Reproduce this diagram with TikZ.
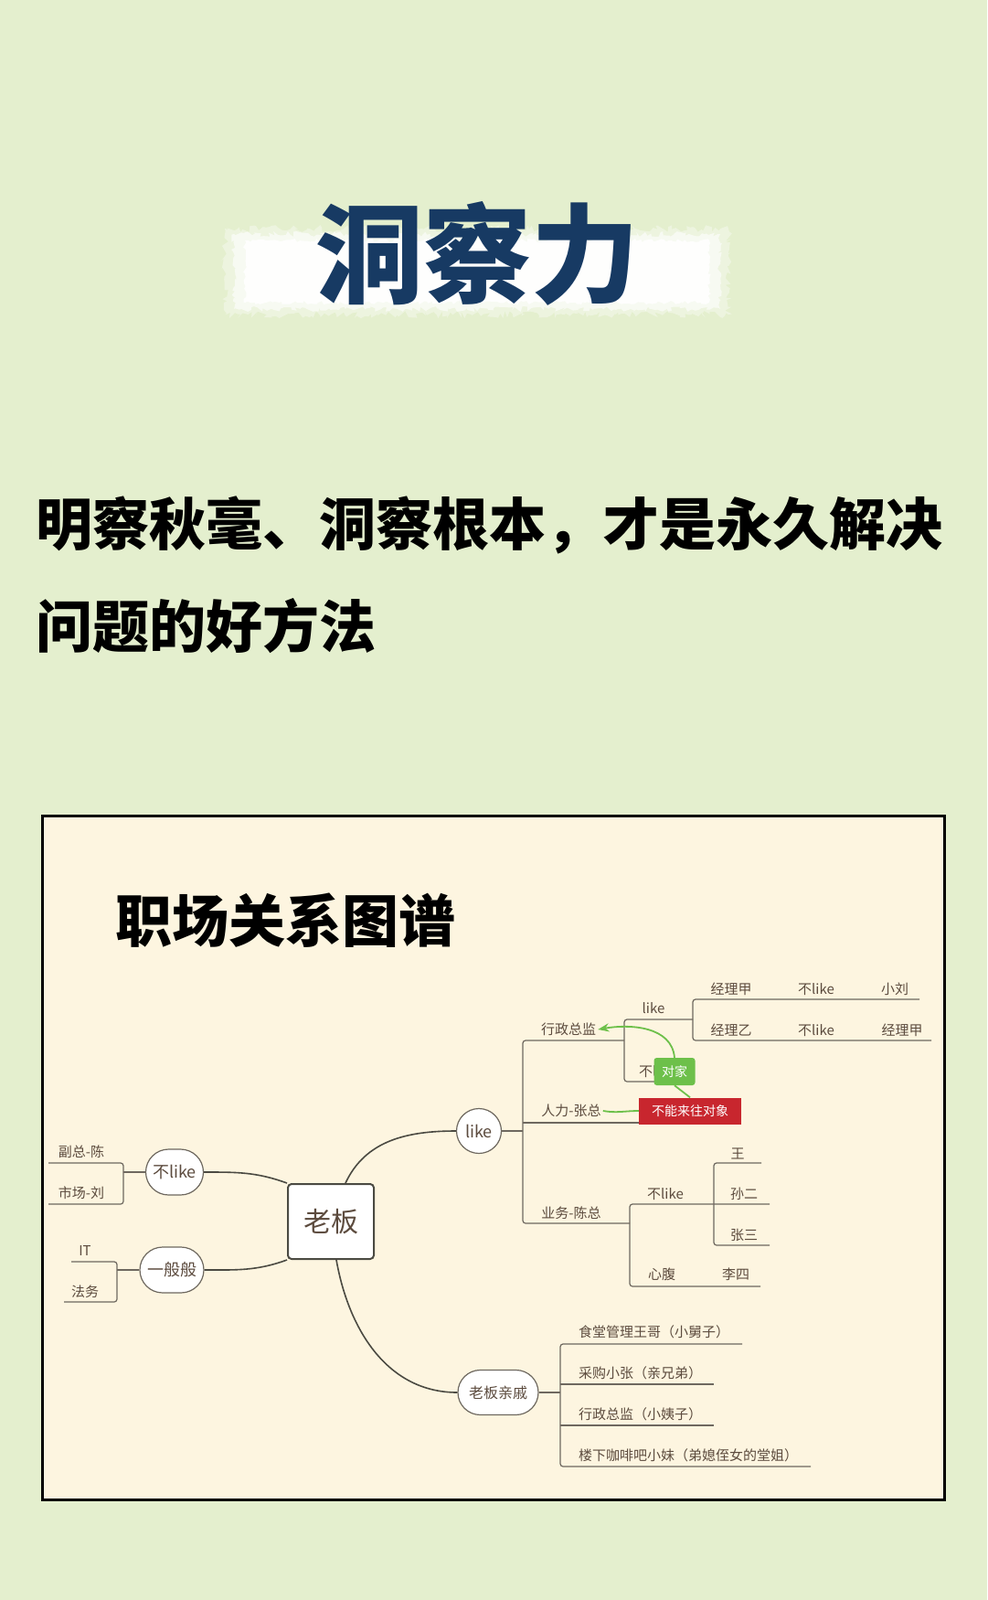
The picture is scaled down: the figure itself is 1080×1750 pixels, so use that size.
\documentclass[tikz,border=0pt]{standalone}
\usepackage{fontspec}
\setmainfont{Noto Sans CJK SC}
\newfontfamily\heavyfont{Noto Sans CJK SC Black}
\usepackage{xcolor}
\usetikzlibrary{calc, shapes.misc, arrows.meta, positioning, decorations.pathmorphing}
\definecolor{pagebg}{HTML}{E4EFCE}
\definecolor{panelbg}{HTML}{FDF5E0}
\definecolor{navy}{HTML}{173A63}
\definecolor{inkbrown}{HTML}{5C4B3E}
\definecolor{linegrey}{HTML}{6E685F}
\definecolor{linkgrey}{HTML}{4B4A42}
\definecolor{tiegreen}{HTML}{6DC04A}
\definecolor{banred}{HTML}{C8262E}
\newcommand\setfs[1]{\fontsize{#1}{#1}\selectfont}

\begin{document}
\begin{tikzpicture}[x=1pt, y=-1pt,
        leaf/.style = {text=inkbrown, font=\setfs{15}, inner sep=2pt},
        pill/.style = {draw=linegrey, fill=white, rounded rectangle, line width=1.2pt, text=inkbrown, font=\setfs{18}, minimum height=50pt, inner xsep=3pt},
        boss/.style = {draw=linkgrey, fill=white, rectangle, rounded corners=4pt, line width=2pt, text=inkbrown, font=\setfs{30}, minimum width=94pt, minimum height=82pt},
        branch/.style = {draw=linegrey, line width=1.2pt, rounded corners=3pt},
        link/.style = {draw=linkgrey, line width=1.6pt},
        tie/.style = {draw=tiegreen, line width=1.8pt},
        tag/.style = {text=white, font=\setfs{14}, inner sep=3pt},
        headline/.style = {font=\bfseries\setfs{62}, anchor=west, inner sep=0pt},
        brush/.style = {fill=white, decorate, decoration={random steps, segment length=3pt, amplitude=#1}}
    ]

        % Page
        \fill[pagebg] (0,0) rectangle (1080,1750);
        \useasboundingbox (0,0) rectangle (1080,1750);

        % Title with brush
        \fill[brush=4pt, opacity=0.35] (246,250) rectangle (797,344);
        \fill[brush=3pt, opacity=0.6] (256,256) rectangle (788,338);
        \fill[brush=2pt, opacity=0.9] (268,263) rectangle (776,331);
        \node (title) [text=navy, font=\heavyfont\setfs{118}, inner sep=0pt] at (522,277) {洞察力};

        % Subtitle
        \node (sub1) [headline] at (39,574) {明察秋毫、洞察根本，才是永久解决};
        \node (sub2) [headline] at (39,685) {问题的好方法};

        % Panel
        \draw[line width=3pt, fill=panelbg] (46,892) rectangle (1033,1640);
        \node (maptitle) [headline] at (126,1007) {职场关系图谱};

        % Centre and first level
        \node (boss)  [boss] at (362,1336) {老板};
        \node (nlike) [pill, minimum width=69pt] at (191,1282) {不like};
        \node (meh)   [pill, minimum width=76pt] at (188,1389) {一般般};
        \node (like)  [pill, minimum width=52pt, minimum height=49pt] at (524,1237) {like};
        \node (kin)   [pill, minimum width=94pt, minimum height=49pt, font=\setfs{16}] at (545,1523) {老板亲戚};

        \draw[link] (boss.north west) to[out=160,in=0] (nlike.east);
        \draw[link] (boss.south west) to[out=200,in=0] (meh.east);
        \draw[link] ($(boss.north)+(16,0)$) to[out=65,in=180] (like.west);
        \draw[link] ($(boss.south)+(6,0)$) to[out=-80,in=180] (kin.west);

        % Left: not like
        \node (vpchen) [leaf] at (89,1260) {副总-陈};
        \node (mkliu)  [leaf] at (89,1305) {市场-刘};
        \coordinate (nl-j) at (135,1282);
        \coordinate (nl-t) at (53,1272);
        \coordinate (nl-b) at (53,1317);
        \draw[branch] (nlike.west) -- (nl-j);
        \draw[branch] (nl-t) -| (nl-j) |- (nl-b);

        % Left: so-so
        \node (it)    [leaf] at (93,1368) {IT};
        \node (legal) [leaf] at (93,1413) {法务};
        \coordinate (mh-j) at (128,1389);
        \coordinate (mh-t) at (78,1380);
        \coordinate (mh-b) at (70,1424);
        \draw[branch] (meh.west) -- (mh-j);
        \draw[branch] (mh-t) -| (mh-j) |- (mh-b);

        % Right: like
        \coordinate (rj) at (572,1237);
        \coordinate (adm-j) at (683,1138);
        \coordinate (biz-j) at (689,1338);
        \coordinate (hr-j) at (572,1228);
        \coordinate (hr-e) at (700,1228);
        \draw[branch] (like.east) -- (rj);
        \draw[branch] (adm-j) -| (rj) |- (biz-j);
        \draw[branch] (hr-j) -- (hr-e);

        \node (admin) [leaf] at (622,1126) {行政总监};
        \node (hr)    [leaf] at (625,1215) {人力-张总};
        \node (biz)   [leaf] at (625,1327) {业务-陈总};

        % Admin director
        \coordinate (mg-j) at (758,1115);
        \coordinate (nl2-e) at (716,1183);
        \coordinate (r1-e) at (1006,1093);
        \coordinate (r2-e) at (1019,1138);
        \draw[branch] (mg-j) -| (adm-j) |- (nl2-e);
        \draw[branch] (r1-e) -| (mg-j) |- (r2-e);
        \node (alike)  [leaf] at (715,1103) {like};
        \node (anlike) [leaf, anchor=west] at (697,1172) {不like};
        \node (mgrA)   [leaf] at (800,1082) {经理甲};
        \node (r1n)    [leaf] at (893,1082) {不like};
        \node (xliu)   [leaf] at (979,1082) {小刘};
        \node (mgrB)   [leaf] at (800,1127) {经理乙};
        \node (r2n)    [leaf] at (893,1127) {不like};
        \node (mgrA2)  [leaf] at (987,1127) {经理甲};

        % Business
        \coordinate (dis-j) at (781,1317);
        \coordinate (sun-e) at (842,1317);
        \coordinate (li-e) at (832,1407);
        \coordinate (wang-e) at (833,1272);
        \coordinate (zhang-e) at (842,1362);
        \draw[branch] (sun-e) -| (biz-j) |- (li-e);
        \draw[branch] (wang-e) -| (dis-j) |- (zhang-e);
        \node (bnlike) [leaf] at (728,1306) {不like};
        \node (wang)   [leaf] at (807,1262) {王};
        \node (sun)    [leaf] at (814,1306) {孙二};
        \node (zhang)  [leaf] at (814,1351) {张三};
        \node (trust)  [leaf] at (724,1394) {心腹};
        \node (lisi)   [leaf] at (805,1394) {李四};

        % Relatives
        \coordinate (kin-j) at (613,1523);
        \coordinate (k1-e) at (812,1470);
        \coordinate (k2-e) at (781,1514);
        \coordinate (k3-e) at (781,1559);
        \coordinate (k4-e) at (887,1604);
        \draw[branch] (kin.east) -- (kin-j);
        \draw[branch] (k1-e) -| (kin-j) |- (k4-e);
        \draw[branch] (kin-j |- k2-e) -- (k2-e);
        \draw[branch] (kin-j |- k3-e) -- (k3-e);
        \node (kin1) [leaf, anchor=west] at (631,1457) {食堂管理王哥（小舅子）};
        \node (kin2) [leaf, anchor=west] at (631,1502) {采购小张（亲兄弟）};
        \node (kin3) [leaf, anchor=west] at (631,1547) {行政总监（小姨子）};
        \node (kin4) [leaf, anchor=west] at (631,1592) {楼下咖啡吧小妹（弟媳侄女的堂姐）};

        % Rival tags
        \node (ban) [tag, fill=banred, minimum width=112pt, minimum height=29pt] at (755,1215) {不能来往对象};
        \node (foe) [tag, fill=tiegreen, rounded corners=3pt, minimum width=45pt, minimum height=30pt] at (738,1172) {对家};
        \draw[tie] (hr.east) to[out=-10,in=180] (ban.west);
        \draw[tie] (ban.north) -- (foe.south);
        \draw[tie, -{Stealth[scale=1.1]}] (foe.north) to[out=95,in=10] (admin.east);

    \end{tikzpicture}
\end{document}
